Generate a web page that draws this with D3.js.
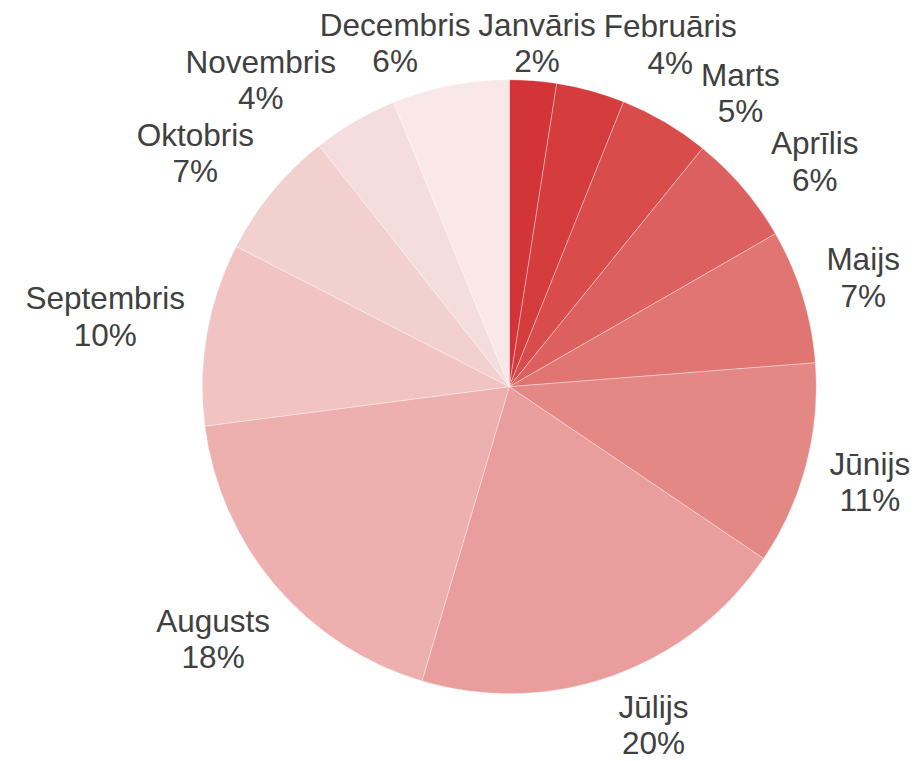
<!DOCTYPE html>
<html><head><meta charset="utf-8">
<script src="https://cdn.jsdelivr.net/npm/d3@7"></script>
<style>html,body{margin:0;padding:0;background:#fff;} svg{display:block;}</style>
</head><body>
<svg id="chart" width="917" height="761"></svg>
<script>
// ---- data ----
const months = ["Janvāris","Februāris","Marts","Aprīlis","Maijs","Jūnijs","Jūlijs","Augusts","Septembris","Oktobris","Novembris","Decembris"];
const shares = [2.47, 3.60, 4.77, 5.86, 7.06, 10.70, 20.13, 18.36, 9.60, 6.82, 4.48, 6.15];
const sliceColors = ["#D23437","#D53C3E","#D84C4C","#DC6060","#E07572","#E48886","#E99D9D","#EEAFAF","#F1C3C3","#F3D0D0","#F6DDDD","#FAE7E7"];

// ---- layout ----
const W = 917, H = 761, cx = 509.3, cy = 386.7, R = 307;
const FONT = "'Liberation Sans', Arial, Helvetica, sans-serif";
const FS = 31.5, LS = 36.3, CAP = FS * 0.716, HH = (LS + CAP) / 2, RHO = 327;
const PADX = 3.75, PADY = 7, TOP = 13.6, TOPFIT = 17.5, BOTTOM = 754;
const deg = Math.PI / 180, MAXROT = 10 * deg, STEP = 0.1 * deg;

const svg = d3.select("#chart");
const total = d3.sum(shares);
const fmt = d3.format(".0%");
const data = months.map((m, i) => ({ name: m, value: shares[i], color: sliceColors[i] }));
const pie = d3.pie().sort(null).value(d => d.value);
const arcs = pie(data);
const arc = d3.arc().innerRadius(0).outerRadius(R);

const g = svg.append("g").attr("transform", `translate(${cx},${cy})`);
g.selectAll("path").data(arcs).join("path")
  .attr("d", arc)
  .attr("fill", d => d.data.color)
  .attr("stroke", "#fff")
  .attr("stroke-width", 0.75)
  .attr("stroke-opacity", 0.45);

// ---- labels ----
const measure = svg.append("text").attr("font-family", FONT).attr("font-size", FS).style("visibility", "hidden");
function textW(s) { measure.text(s); return measure.node().getComputedTextLength(); }

const labels = arcs.map(a => {
  const l1 = a.data.name, l2 = fmt(a.data.value / total);
  return { mid: (a.startAngle + a.endAngle) / 2, l1, l2, w1: textW(l1), w2: textW(l2) };
});
measure.remove();

function place(L, phi) {
  const hw = Math.max(L.w1, L.w2) / 2;
  const ux = Math.sin(phi), uy = -Math.cos(phi);
  let lo = 0, hi = 1000;
  for (let k = 0; k < 50; k++) {
    const t = (lo + hi) / 2;
    const dx = Math.max(0, Math.abs(t * ux) - hw), dy = Math.max(0, Math.abs(t * uy) - HH);
    if (Math.hypot(dx, dy) < RHO) lo = t; else hi = t;
  }
  return { x: cx + lo * ux, y: cy + lo * uy };
}
function violation(p) {
  if (p.y - HH < TOPFIT) return "top";
  if (p.y + HH > BOTTOM) return "bottom";
  return null;
}
function clampP(p) {
  let y = p.y;
  if (y - HH < TOP) y = TOP + HH;
  if (y + HH > BOTTOM) y = BOTTOM - HH;
  return { x: p.x, y };
}
function boxes(L, p) {
  const top = p.y - HH;
  return [
    { x0: p.x - L.w1 / 2 - PADX, x1: p.x + L.w1 / 2 + PADX, y0: top - PADY, y1: top + CAP + PADY },
    { x0: p.x - L.w2 / 2 - PADX, x1: p.x + L.w2 / 2 + PADX, y0: top + LS - PADY, y1: top + LS + CAP + PADY }
  ];
}
function overlap(A, B) {
  return A.some(a => B.some(b => a.x0 < b.x1 && a.x1 > b.x0 && a.y0 < b.y1 && a.y1 > b.y0));
}
function initial(L) {
  const phi = L.mid;
  const p = place(L, phi);
  const v = violation(p);
  if (!v) return { phi, p };
  const dir = v === "top" ? (phi < Math.PI ? 1 : -1) : (phi < Math.PI ? -1 : 1);
  for (let d = STEP; d <= MAXROT; d += STEP) {
    const q = place(L, phi + dir * d);
    if (!violation(q)) return { phi: phi + dir * d, p: q };
  }
  return { phi, p: clampP(p) };
}
const placed = [];
function resolve(L, dir) {
  let { phi, p } = initial(L);
  let n = 0;
  while (placed.some(o => overlap(boxes(L, p), o.bx)) && n < 900) {
    phi += dir * STEP; p = clampP(place(L, phi)); n++;
  }
  L.p = p; L.bx = boxes(L, p); placed.push(L);
}
labels.filter(L => L.mid < Math.PI).sort((a, b) => a.mid - b.mid).forEach(L => resolve(L, 1));
labels.filter(L => L.mid >= Math.PI).sort((a, b) => b.mid - a.mid).forEach(L => resolve(L, -1));

const lab = svg.append("g").attr("font-family", FONT).attr("font-size", FS).attr("fill", "#404040").attr("text-anchor", "middle");
labels.forEach(L => {
  const top = L.p.y - HH;
  const t = lab.append("text");
  t.append("tspan").attr("x", L.p.x).attr("y", top + CAP).text(L.l1);
  t.append("tspan").attr("x", L.p.x).attr("y", top + CAP + LS).text(L.l2);
});
</script>
</body></html>
